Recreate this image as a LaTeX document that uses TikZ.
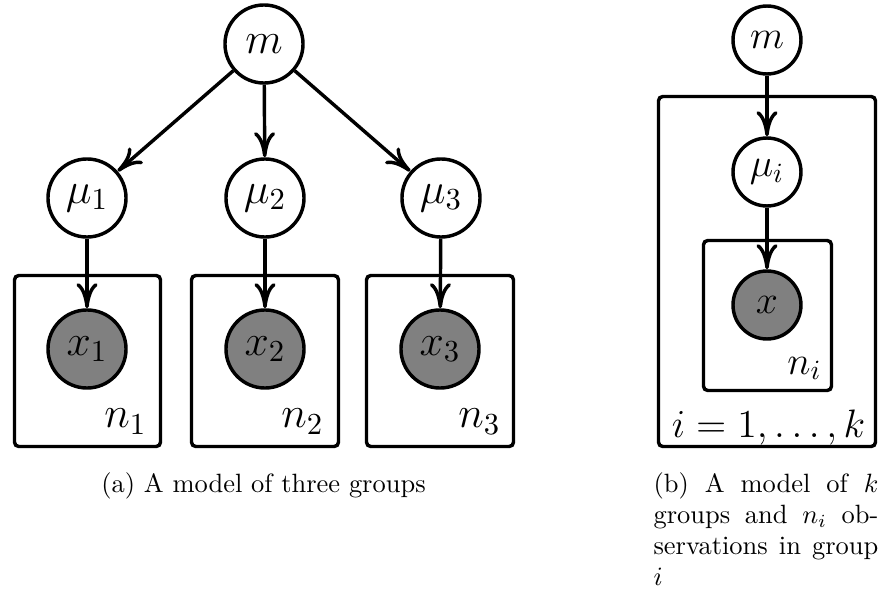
\RequirePackage{fix-cm}
\documentclass[tikz,border=0pt]{standalone}
\usetikzlibrary{arrows.meta}
\begin{document}
\begin{tikzpicture}[x=0.378pt,y=-0.378pt,
  latent/.style={circle,draw,line width=1.3pt,fill=white,inner sep=0pt,minimum size=29.5pt,font=\fontsize{16.5}{19}\selectfont},
  obs/.style={latent,fill=gray},
  latentR/.style={latent,minimum size=25.7pt,font=\fontsize{15}{18}\selectfont},
  obsR/.style={latentR,fill=gray},
  plate/.style={draw,line width=1.3pt,rounded corners=1.6pt},
  edge/.style={line width=1.3pt,-{To[length=9.5pt,width=8pt]}},
  platelabel/.style={anchor=base east,inner sep=0pt,font=\fontsize{16.5}{19}\selectfont},
  platelabelR/.style={platelabel,font=\fontsize{15}{18}\selectfont},
  caption/.style={inner sep=0pt,font=\fontsize{10}{11.6}\selectfont},
]
\useasboundingbox (0,0) rectangle (885,590);

% ---- (a) plates
\draw[plate] (14.5,275.5) rectangle (160.5,446.5);
\draw[plate] (191.5,275.5) rectangle (338.5,446.5);
\draw[plate] (366.5,275.5) rectangle (513.5,446.5);

% ---- (a) nodes
\node[latent] (m) at (264,44) {$m$};
\node[latent] (mu1) at (87,198) {$\mu_1$};
\node[latent] (mu2) at (265,198) {$\mu_2$};
\node[latent] (mu3) at (441,198) {$\mu_3$};
\node[obs] (x1) at (87,349) {$x_1$};
\node[obs] (x2) at (265,349) {$x_2$};
\node[obs] (x3) at (440,349) {$x_3$};

\node[platelabel] (n1) at (147,428) {$n_1$};
\node[platelabel] (n2) at (324,428) {$n_2$};
\node[platelabel] (n3) at (501,428) {$n_3$};

\draw[edge] (m) -- (mu1);
\draw[edge] (m) -- (mu2);
\draw[edge] (m) -- (mu3);
\draw[edge] (mu1) -- (x1);
\draw[edge] (mu2) -- (x2);
\draw[edge] (mu3) -- (x3);

% ---- (b) plates
\draw[plate] (658.5,96.5) rectangle (875.5,446.5);
\draw[plate] (703.5,240.5) rectangle (831.5,390.5);

% ---- (b) nodes
\node[latentR] (mR) at (767,40) {$m$};
\node[latentR] (muR) at (767,172) {$\mu_i$};
\node[obsR] (xR) at (767,305) {$x$};

\node[platelabelR] (ni) at (822,374) {$n_i$};
\node[platelabelR] (ik) at (866,437) {$i=1,\ldots,k$};

\draw[edge] (mR) -- (muR);
\draw[edge] (muR) -- (xR);

% ---- captions
\node[caption,anchor=base] (capa) at (263.5,492) {(a) A model of three groups};
\node[caption,anchor=base west,text width=85pt,align=justify] (capb) at (653,493)
  {(b) A model of $k$\linebreak groups and $n_i$ ob-\linebreak servations in group\linebreak $i$};
\end{tikzpicture}
\end{document}
